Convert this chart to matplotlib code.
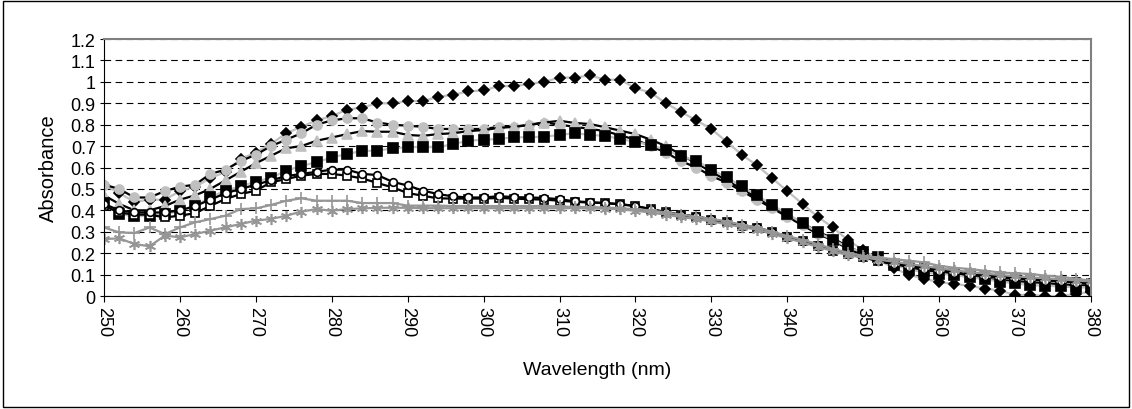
# Absorbance spectra, 250-380 nm, 8 samples
from matplotlib import pyplot as plt
from matplotlib.patches import Rectangle
import numpy as np

plt.rcParams['font.family'] = ['Liberation Sans', 'DejaVu Sans']

# wavelength (nm), one point every 2 nm
wavelength = np.arange(250, 381, 2)

# filled black diamonds
abs_a = [0.52, 0.48, 0.44, 0.45, 0.45, 0.49, 0.51, 0.55, 0.58, 0.64,
         0.67, 0.71, 0.76, 0.79, 0.82, 0.84, 0.87, 0.88, 0.90, 0.90,
         0.91, 0.91, 0.93, 0.94, 0.955, 0.96, 0.98, 0.98, 0.99, 1.00,
         1.02, 1.02, 1.03, 1.01, 1.01, 0.97, 0.95, 0.90, 0.86, 0.82,
         0.78, 0.72, 0.66, 0.61, 0.55, 0.49, 0.43, 0.37, 0.32, 0.26,
         0.215, 0.17, 0.13, 0.10, 0.08, 0.065, 0.056, 0.048, 0.035, 0.025,
         0.005, 0.005, 0.0, 0.0, 0.01, 0.02]
# light gray circles
abs_b = [0.52, 0.50, 0.46, 0.46, 0.49, 0.51, 0.52, 0.57, 0.59, 0.63,
         0.66, 0.70, 0.73, 0.76, 0.80, 0.82, 0.83, 0.83, 0.81, 0.80,
         0.795, 0.79, 0.78, 0.78, 0.78, 0.78, 0.79, 0.79, 0.80, 0.81,
         0.80, 0.79, 0.78, 0.77, 0.75, 0.73, 0.70, 0.67, 0.63, 0.60,
         0.56, 0.53, 0.49, 0.45, 0.41, 0.37, 0.33, 0.29, 0.26, 0.22,
         0.19, 0.17, 0.15, 0.13, 0.12, 0.11, 0.10, 0.09, 0.08, 0.075,
         0.07, 0.065, 0.06, 0.055, 0.05, 0.05]
# light gray triangles
abs_c = [0.47, 0.43, 0.40, 0.40, 0.42, 0.45, 0.47, 0.50, 0.54, 0.58,
         0.62, 0.655, 0.69, 0.70, 0.725, 0.74, 0.756, 0.77, 0.767, 0.767,
         0.752, 0.748, 0.756, 0.76, 0.77, 0.775, 0.785, 0.79, 0.798, 0.81,
         0.818, 0.808, 0.803, 0.788, 0.772, 0.756, 0.73, 0.70, 0.66, 0.62,
         0.58, 0.54, 0.50, 0.46, 0.42, 0.38, 0.34, 0.30, 0.27, 0.23,
         0.20, 0.18, 0.16, 0.14, 0.13, 0.12, 0.11, 0.10, 0.095, 0.09,
         0.085, 0.08, 0.075, 0.07, 0.065, 0.06]
# filled black squares
abs_d = [0.434, 0.383, 0.372, 0.375, 0.383, 0.398, 0.419, 0.461, 0.492, 0.512,
         0.534, 0.552, 0.585, 0.608, 0.624, 0.647, 0.663, 0.678, 0.678, 0.69,
         0.694, 0.697, 0.694, 0.71, 0.725, 0.73, 0.733, 0.741, 0.741, 0.744,
         0.752, 0.761, 0.752, 0.748, 0.733, 0.72, 0.705, 0.683, 0.652, 0.632,
         0.59, 0.554, 0.512, 0.47, 0.425, 0.383, 0.34, 0.297, 0.263, 0.227,
         0.204, 0.18, 0.145, 0.126, 0.11, 0.103, 0.098, 0.087, 0.079, 0.067,
         0.059, 0.051, 0.048, 0.045, 0.04, 0.04]
# open squares
abs_e = [0.42, 0.39, 0.38, 0.38, 0.367, 0.375, 0.387, 0.421, 0.453, 0.476,
         0.492, 0.531, 0.546, 0.562, 0.57, 0.57, 0.562, 0.549, 0.528, 0.507,
         0.481, 0.468, 0.456, 0.455, 0.455, 0.455, 0.458, 0.455, 0.452, 0.45,
         0.445, 0.44, 0.436, 0.434, 0.429, 0.42, 0.406, 0.39, 0.378, 0.37,
         0.356, 0.344, 0.328, 0.318, 0.297, 0.274, 0.255, 0.235, 0.212, 0.196,
         0.18, 0.165, 0.15, 0.14, 0.13, 0.12, 0.11, 0.10, 0.095, 0.09,
         0.085, 0.08, 0.075, 0.07, 0.065, 0.06]
# open circles
abs_f = [0.43, 0.40, 0.39, 0.39, 0.39, 0.40, 0.42, 0.45, 0.48, 0.50,
         0.52, 0.54, 0.56, 0.57, 0.58, 0.59, 0.59, 0.57, 0.565, 0.533,
         0.516, 0.492, 0.476, 0.465, 0.46, 0.46, 0.466, 0.462, 0.46, 0.458,
         0.452, 0.442, 0.438, 0.434, 0.428, 0.42, 0.406, 0.392, 0.38, 0.372,
         0.358, 0.346, 0.33, 0.32, 0.30, 0.277, 0.258, 0.237, 0.214, 0.197,
         0.18, 0.163, 0.148, 0.137, 0.127, 0.117, 0.107, 0.098, 0.092, 0.087,
         0.082, 0.077, 0.072, 0.068, 0.063, 0.058]
# gray plus
abs_g = [0.32, 0.297, 0.294, 0.32, 0.289, 0.32, 0.344, 0.359, 0.375, 0.406,
         0.409, 0.425, 0.445, 0.456, 0.445, 0.445, 0.445, 0.434, 0.434, 0.434,
         0.422, 0.422, 0.422, 0.42, 0.42, 0.42, 0.42, 0.42, 0.42, 0.42,
         0.418, 0.416, 0.415, 0.413, 0.41, 0.405, 0.40, 0.39, 0.38, 0.37,
         0.36, 0.348, 0.333, 0.32, 0.30, 0.28, 0.262, 0.242, 0.22, 0.202,
         0.187, 0.18, 0.172, 0.165, 0.157, 0.141, 0.132, 0.126, 0.118, 0.11,
         0.106, 0.103, 0.095, 0.09, 0.08, 0.072]
# gray asterisk
abs_h = [0.266, 0.269, 0.243, 0.232, 0.282, 0.274, 0.289, 0.305, 0.321, 0.336,
         0.352, 0.36, 0.375, 0.394, 0.406, 0.398, 0.406, 0.409, 0.412, 0.412,
         0.412, 0.41, 0.41, 0.41, 0.41, 0.41, 0.41, 0.41, 0.41, 0.41,
         0.41, 0.41, 0.409, 0.408, 0.405, 0.398, 0.39, 0.38, 0.368, 0.36,
         0.348, 0.335, 0.322, 0.31, 0.29, 0.27, 0.25, 0.23, 0.21, 0.19,
         0.18, 0.17, 0.16, 0.15, 0.14, 0.13, 0.12, 0.112, 0.105, 0.098,
         0.092, 0.087, 0.082, 0.078, 0.072, 0.068]

fig = plt.figure(figsize=(11.32, 4.10), dpi=100)
ax = fig.add_axes([0.0919, 0.2756, 0.8719, 0.6268])

light = '#c0c0c0'
mid = '#969696'

# (data, line colour, marker, face, edge, size)
series = [
    (abs_a, light, 'D', 'black', 'black', 5),
    (abs_b, 'black', 'o', light, light, 6.5),
    (abs_c, 'black', '^', light, light, 6.5),
    (abs_d, light, 's', 'black', 'black', 6.5),
    (abs_e, 'black', 's', 'white', 'black', 5.5),
    (abs_f, 'black', 'o', 'white', 'black', 5.5),
    (abs_g, mid, '+', mid, mid, 8),
    (abs_h, mid, (6, 2, 0), mid, mid, 8),
]
for vals, lc, mk, fc, ec, ms in series:
    ax.plot(wavelength, vals, color=lc, lw=1.6, marker=mk, markersize=ms,
            markerfacecolor=fc, markeredgecolor=ec, markeredgewidth=1.2)

ax.set_xlim(250, 380)
ax.set_ylim(0, 1.2)
ax.set_xticks(np.arange(250, 381, 10))
ax.set_yticks(np.arange(0, 1.21, 0.1))
ax.set_yticklabels(['0', '0.1', '0.2', '0.3', '0.4', '0.5', '0.6', '0.7',
                    '0.8', '0.9', '1', '1.1', '1.2'])
ax.tick_params(axis='x', labelrotation=270, labelsize=13, length=4, pad=3, direction='out')
ax.tick_params(axis='y', labelsize=13, length=3, pad=3, direction='out')
ax.yaxis.grid(True, color='black', linestyle=(0, (6, 4)), linewidth=0.8)
ax.set_axisbelow(True)

ax.spines['top'].set_color('#808080')
ax.spines['right'].set_color('#808080')
ax.spines['top'].set_linewidth(1.5)
ax.spines['right'].set_linewidth(1.5)

ax.set_xlabel('Wavelength (nm)', fontsize=14, labelpad=18)
ax.set_ylabel('Absorbance', fontsize=14.5, labelpad=9)

# outer frame around the whole chart
fig.patches.append(Rectangle((0.003, 0.006), 0.994, 0.988, transform=fig.transFigure,
                             fill=False, edgecolor='black', linewidth=1))

plt.savefig('out.png')
